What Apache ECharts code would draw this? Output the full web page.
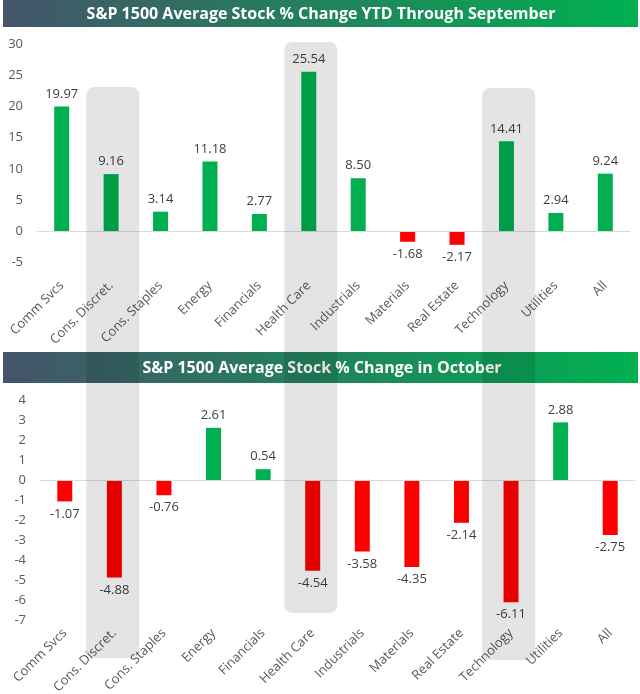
<!DOCTYPE html>
<html>
<head>
<meta charset="utf-8">
<script src="https://cdn.jsdelivr.net/npm/echarts@6/dist/echarts.min.js"></script>
<style>html,body{margin:0;padding:0;background:#fff}#c{width:640px;height:694px}</style>
</head>
<body>
<div id="c"></div>
<script>
const categories = ['Comm Svcs','Cons. Discret.','Cons. Staples','Energy','Financials','Health Care','Industrials','Materials','Real Estate','Technology','Utilities','All'];
const ytdValues = [19.97, 9.16, 3.14, 11.18, 2.77, 25.54, 8.50, -1.68, -2.17, 14.41, 2.94, 9.24];
const octValues = [-1.07, -4.88, -0.76, 2.61, 0.54, -4.54, -3.58, -4.35, -2.14, -6.11, 2.88, -2.75];
const highlighted = ['Cons. Discret.', 'Health Care', 'Technology'];
const titleTop = 'S&P 1500 Average Stock % Change YTD Through September';
const titleBottom = 'S&P 1500 Average Stock % Change in October';

const GREEN = '#00b050', RED = '#ff0000';
const FONT = '"Open Sans", "Noto Sans", sans-serif';

function barData(vals) {
  return vals.map(v => ({
    value: v,
    itemStyle: { color: v >= 0 ? GREEN : RED },
    label: { position: v >= 0 ? 'top' : 'bottom' }
  }));
}

function xAxis(gi, margin) {
  return {
    type: 'category', gridIndex: gi, data: categories,
    axisLine: { show: false, onZero: false }, axisTick: { show: false },
    axisLabel: { rotate: 45, interval: 0, color: '#595959', fontSize: 13, fontFamily: FONT, margin: margin }
  };
}
function yAxis(gi, min, max, interval) {
  return {
    type: 'value', gridIndex: gi, min: min, max: max, interval: interval,
    splitLine: { show: false }, axisLine: { show: false }, axisTick: { show: false },
    axisLabel: { color: '#595959', fontSize: 13, fontFamily: FONT, margin: 14 }
  };
}
function series(gi, vals) {
  return {
    type: 'bar', xAxisIndex: gi, yAxisIndex: gi, barWidth: 15,
    data: barData(vals),
    label: { show: true, formatter: p => p.value.toFixed(2), color: '#404040', fontSize: 13, fontFamily: FONT, distance: 6 },
    markLine: { silent: true, symbol: 'none', label: { show: false },
      lineStyle: { color: '#d9d9d9', type: 'solid', width: 1 }, data: [{ yAxis: 0 }] },
    animation: false
  };
}

const chart = echarts.init(document.getElementById('c'), null, { renderer: 'canvas' });
const grad = () => new echarts.graphic.LinearGradient(0, 0, 1, 0, [{ offset: 0, color: '#44546a' }, { offset: 1, color: '#00b050' }]);

const option = {
  animation: false,
  grid: [
    { left: 37, right: 10, top: 44, height: 218.5, containLabel: false, outerBoundsMode: 'none' },
    { left: 40, right: 5, top: 400, height: 220, containLabel: false, outerBoundsMode: 'none' }
  ],
  xAxis: [xAxis(0, 21), xAxis(1, 11)],
  yAxis: [yAxis(0, -5, 30, 5), yAxis(1, -7, 4, 1)],
  series: [series(0, ytdValues), series(1, octValues)]
};
chart.setOption(option);

// decorations: title bars and translucent highlight panels, positioned from the axes
const spans = { 'Cons. Discret.': [87, 658], 'Health Care': [42, 613], 'Technology': [88, 660] };
const graphics = [
  { type: 'rect', shape: { x: 3, y: 0, width: 635, height: 27 }, style: { fill: grad() }, z: 10 },
  { type: 'text', x: 321, y: 14, style: { text: titleTop, fill: '#fff', font: 'bold 16px ' + FONT, textAlign: 'center', textVerticalAlign: 'middle' }, z: 11 },
  { type: 'rect', shape: { x: 3, y: 352, width: 635, height: 31 }, style: { fill: grad() }, z: 10 },
  { type: 'text', x: 322, y: 368, style: { text: titleBottom, fill: '#fff', font: 'bold 16px ' + FONT, textAlign: 'center', textVerticalAlign: 'middle' }, z: 11 }
];
highlighted.forEach(name => {
  const x0 = chart.convertToPixel({ xAxisIndex: 0 }, name);
  const x1 = chart.convertToPixel({ xAxisIndex: 1 }, name);
  const cx = (x0 + x1) / 2;
  const [t, b] = spans[name];
  graphics.push({ type: 'rect', shape: { x: cx - 26.5, y: t, width: 53, height: b - t, r: 8 }, style: { fill: 'rgba(0,0,0,0.105)' }, z: 20 });
});
chart.setOption({ graphic: graphics });
</script>
</body>
</html>
